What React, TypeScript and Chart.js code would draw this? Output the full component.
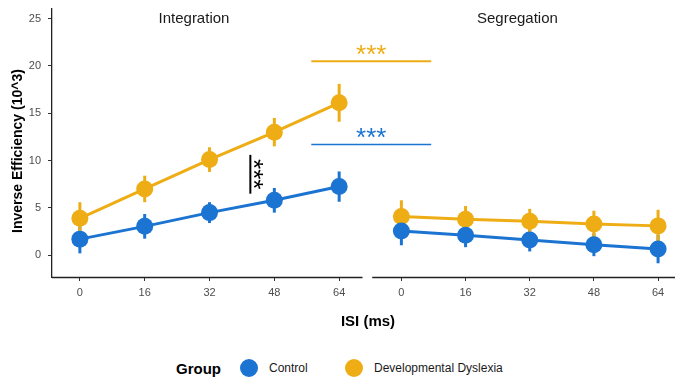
import React, { useEffect, useRef } from 'react';
import { Chart, registerables } from 'chart.js';

Chart.register(...registerables);

// ---- data ----
const isiLabels = ['0', '16', '32', '48', '64'];
const integrationControl = [1.7, 3.05, 4.5, 5.8, 7.25];
const integrationControlErr = [1.5, 1.3, 1.1, 1.3, 1.6];
const integrationDyslexia = [3.9, 7.0, 10.1, 13.0, 16.1];
const integrationDyslexiaErr = [1.7, 1.4, 1.3, 1.5, 2.0];
const segregationControl = [2.55, 2.1, 1.6, 1.1, 0.65];
const segregationControlErr = [1.5, 1.25, 1.2, 1.2, 1.5];
const segregationDyslexia = [4.1, 3.8, 3.6, 3.3, 3.1];
const segregationDyslexiaErr = [1.7, 1.4, 1.3, 1.4, 1.7];
const yTickValues = [0, 5, 10, 15, 20, 25];
const panelTitles = ['Integration', 'Segregation'];
const groupNames = ['Control', 'Developmental Dyslexia'];

// significance annotations (value units)
const dysSigY = 20.5;
const ctrlSigY = 11.7;
const betweenSigFrom = 10.6;
const betweenSigTo = 6.5;

const BLUE = '#1b74d1';
const ORANGE = '#eead14';
const FONT = "'Liberation Sans', Arial, sans-serif";

const W = 675;
const H = 345;
const SEG_OFFSET = 4.96; // x index of first Segregation category

const intPos = isiLabels.map((_, i) => i);
const segPos = isiLabels.map((_, i) => i * 0.99 + SEG_OFFSET);
const allPos = [...intPos, ...segPos];

const toPts = (pos: number[], vals: number[]) => vals.map((v, i) => ({ x: pos[i], y: v }));

export default function App() {
  const ref = useRef<HTMLCanvasElement | null>(null);

  useEffect(() => {
    const canvas = ref.current;
    if (!canvas) return;

    const errorSets = [
      { pos: intPos, vals: integrationControl, err: integrationControlErr, color: BLUE },
      { pos: segPos, vals: segregationControl, err: segregationControlErr, color: BLUE },
      { pos: intPos, vals: integrationDyslexia, err: integrationDyslexiaErr, color: ORANGE },
      { pos: segPos, vals: segregationDyslexia, err: segregationDyslexiaErr, color: ORANGE },
    ];

    const decor = {
      id: 'decor',
      beforeDatasetsDraw(chart: any) {
        const { ctx, scales } = chart;
        const xs = scales.x, ys = scales.y;
        ctx.save();
        ctx.lineWidth = 3;
        ctx.lineCap = 'butt';
        errorSets.forEach((s) => {
          ctx.strokeStyle = s.color;
          s.vals.forEach((v, i) => {
            const px = xs.getPixelForValue(s.pos[i]);
            ctx.beginPath();
            ctx.moveTo(px, ys.getPixelForValue(v - s.err[i]));
            ctx.lineTo(px, ys.getPixelForValue(v + s.err[i]));
            ctx.stroke();
          });
        });
        ctx.restore();
      },
      afterDraw(chart: any) {
        const { ctx, scales, chartArea } = chart;
        const xs = scales.x, ys = scales.y;
        ctx.save();
        // x axis lines (two panels)
        ctx.strokeStyle = '#222';
        ctx.lineWidth = 1.3;
        const by = chartArea.bottom + 0.5;
        ctx.beginPath();
        ctx.moveTo(chartArea.left, by);
        ctx.lineTo(xs.getPixelForValue(4.36), by);
        ctx.moveTo(xs.getPixelForValue(4.51), by);
        ctx.lineTo(W, by);
        ctx.stroke();

        // panel titles
        ctx.fillStyle = '#1a1a1a';
        ctx.font = `15px ${FONT}`;
        ctx.textAlign = 'center';
        ctx.textBaseline = 'middle';
        ctx.fillText(panelTitles[0], xs.getPixelForValue(1.76), ys.getPixelForValue(25));
        ctx.fillText(panelTitles[1], xs.getPixelForValue(6.75), ys.getPixelForValue(25));

        // axis titles
        ctx.fillStyle = '#000';
        ctx.font = `bold 15px ${FONT}`;
        ctx.fillText('ISI (ms)', 368, 322);
        ctx.save();
        ctx.translate(18, 151);
        ctx.rotate(-Math.PI / 2);
        ctx.font = `bold 14px ${FONT}`;
        ctx.fillText('Inverse Efficiency (10^3)', 0, 0);
        ctx.restore();

        // significance annotations
        const x1 = xs.getPixelForValue(3.57);
        const x2 = xs.getPixelForValue(5.42);
        const xm = (x1 + x2) / 2;
        ctx.lineWidth = 2;
        ctx.strokeStyle = ORANGE;
        ctx.beginPath();
        ctx.moveTo(x1, ys.getPixelForValue(dysSigY));
        ctx.lineTo(x2, ys.getPixelForValue(dysSigY));
        ctx.stroke();
        ctx.lineWidth = 1.5;
        ctx.strokeStyle = BLUE;
        ctx.beginPath();
        ctx.moveTo(x1, ys.getPixelForValue(ctrlSigY));
        ctx.lineTo(x2, ys.getPixelForValue(ctrlSigY));
        ctx.stroke();

        ctx.font = `26px ${FONT}`;
        ctx.textBaseline = 'alphabetic';
        ctx.fillStyle = ORANGE;
        ctx.fillText('***', xm, ys.getPixelForValue(dysSigY) + 2);
        ctx.fillStyle = BLUE;
        ctx.fillText('***', xm, ys.getPixelForValue(ctrlSigY) + 2);

        // between-group bracket
        const bx = xs.getPixelForValue(2.63);
        ctx.strokeStyle = '#000';
        ctx.lineWidth = 2;
        ctx.beginPath();
        ctx.moveTo(bx, ys.getPixelForValue(betweenSigFrom));
        ctx.lineTo(bx, ys.getPixelForValue(betweenSigTo));
        ctx.stroke();
        ctx.save();
        ctx.translate(bx - 5, ys.getPixelForValue((betweenSigFrom + betweenSigTo) / 2));
        ctx.rotate(Math.PI / 2);
        ctx.fillStyle = '#000';
        ctx.fillText('***', 0, 0);
        ctx.restore();
        ctx.restore();
      },
    };

    const line = (data: any, color: string) => ({
      data,
      borderColor: color,
      backgroundColor: color,
      borderWidth: 3,
      pointRadius: 8.5,
      pointBorderWidth: 0,
      pointBackgroundColor: color,
      showLine: true,
      fill: false,
      clip: false,
    });

    const chart = new Chart(canvas, {
      type: 'line',
      data: {
        datasets: [
          { label: groupNames[0], ...line(toPts(intPos, integrationControl), BLUE) },
          { label: groupNames[0], ...line(toPts(segPos, segregationControl), BLUE) },
          { label: groupNames[1], ...line(toPts(intPos, integrationDyslexia), ORANGE) },
          { label: groupNames[1], ...line(toPts(segPos, segregationDyslexia), ORANGE) },
        ],
      },
      options: {
        responsive: false,
        animation: false,
        devicePixelRatio: 1,
        layout: { padding: { top: 4, left: 0, right: 0, bottom: 0 } },
        plugins: { legend: { display: false }, tooltip: { enabled: false } },
        scales: {
          x: {
            type: 'linear',
            min: -0.43,
            max: 9.05,
            afterBuildTicks: (s: any) => {
              s.ticks = allPos.map((v) => ({ value: v }));
            },
            afterFit: (s: any) => {
              s.height = H - 277;
              s.paddingLeft = 0;
              s.paddingRight = 0;
            },
            ticks: {
              autoSkip: false,
              maxRotation: 0,
              padding: 5,
              color: '#4d4d4d',
              font: { size: 11, family: FONT },
              callback: (_v: any, i: number) => isiLabels[i % isiLabels.length],
            },
            grid: { drawOnChartArea: false, drawTicks: true, tickLength: 4, color: '#333', lineWidth: 1 },
            border: { display: false },
          },
          y: {
            type: 'linear',
            min: -2.3,
            max: 26.06,
            afterBuildTicks: (s: any) => {
              s.ticks = yTickValues.map((v) => ({ value: v }));
            },
            afterFit: (s: any) => {
              s.width = 52;
              s.paddingTop = 0;
              s.paddingBottom = 0;
            },
            ticks: {
              padding: 7,
              color: '#4d4d4d',
              font: { size: 11, family: FONT },
            },
            grid: { drawOnChartArea: false, drawTicks: true, tickLength: 4, color: '#333', lineWidth: 1 },
            border: { display: true, color: '#222', width: 1.3 },
          },
        },
      },
      plugins: [decor],
    } as any);

    return () => chart.destroy();
  }, []);

  const legendText: React.CSSProperties = {
    position: 'absolute',
    top: 368,
    transform: 'translateY(-50%)',
    fontFamily: FONT,
    fontSize: 12,
    color: '#1a1a1a',
    whiteSpace: 'nowrap',
  };
  const dot = (cx: number, color: string): React.CSSProperties => ({
    position: 'absolute',
    left: cx - 9,
    top: 368 - 9,
    width: 18,
    height: 18,
    borderRadius: '50%',
    background: color,
  });

  return (
    <div style={{ position: 'fixed', left: 0, top: 0, width: W, height: 380, background: '#fff', overflow: 'hidden' }}>
      <canvas ref={ref} width={W} height={H} style={{ position: 'absolute', left: 0, top: 0, width: W, height: H }} />
      <span style={{ ...legendText, left: 176, fontSize: 15, fontWeight: 'bold', color: '#000' }}>Group</span>
      <div style={dot(249, BLUE)} />
      <span style={{ ...legendText, left: 269 }}>{groupNames[0]}</span>
      <div style={dot(354, ORANGE)} />
      <span style={{ ...legendText, left: 374 }}>{groupNames[1]}</span>
    </div>
  );
}
